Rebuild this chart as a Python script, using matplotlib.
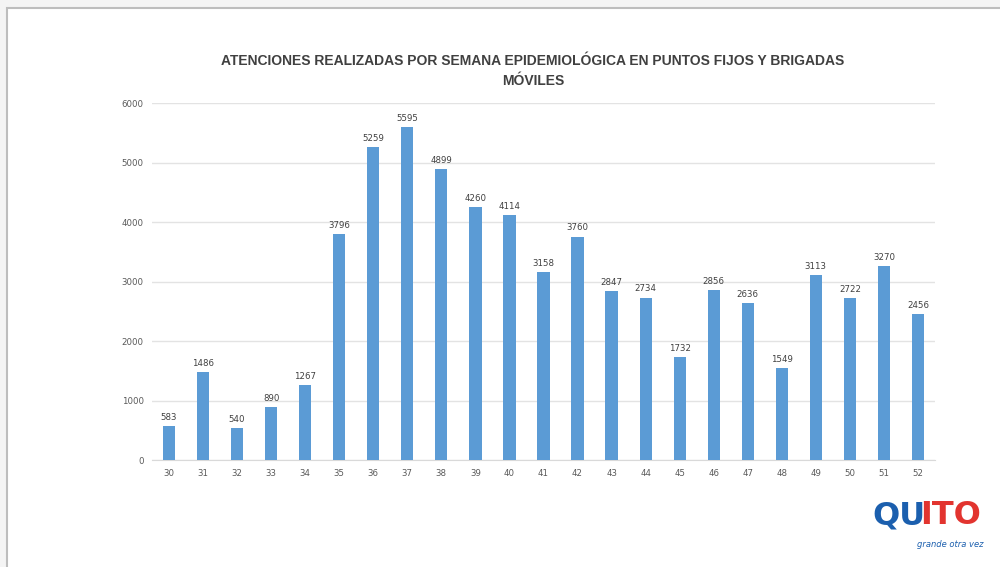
import matplotlib.pyplot as plt
import numpy as np
from matplotlib.patches import Rectangle

semanas = [str(s) for s in range(30, 53)]
atenciones = [583, 1486, 540, 890, 1267, 3796, 5259, 5595, 4899, 4260, 4114,
              3158, 3760, 2847, 2734, 1732, 2856, 2636, 1549, 3113, 2722, 3270, 2456]
yticks = [0, 1000, 2000, 3000, 4000, 5000, 6000]

titulo = "ATENCIONES REALIZADAS POR SEMANA EPIDEMIOLÓGICA EN PUNTOS FIJOS Y BRIGADAS\nMÓVILES"

fig = plt.figure(figsize=(10, 5.67), dpi=100)
fig.patch.set_facecolor("#f4f4f4")
# white page with a grey frame, drawn below the chart
fig.patches.append(Rectangle((0.007, -0.01), 1.0, 0.996, transform=fig.transFigure,
                             facecolor="white", edgecolor="#bdbdbd", linewidth=1.5, zorder=-5))

ax = fig.add_axes([0.152, 0.188, 0.783, 0.63])
ax.set_zorder(2)
x = np.arange(len(semanas))
ax.bar(x, atenciones, width=0.36, color="#5b9bd5", zorder=3)

for xi, v in zip(x, atenciones):
    ax.text(xi, v + 70, str(v), ha="center", va="bottom", fontsize=6.2, color="#404040")

ax.set_xlim(-0.5, len(semanas) - 0.5)
ax.set_ylim(0, 6000)
ax.set_yticks(yticks)
ax.set_yticklabels([str(t) for t in yticks], fontsize=6.2, color="#595959")
ax.set_xticks(x)
ax.set_xticklabels(semanas, fontsize=6.2, color="#595959")
ax.tick_params(length=0, pad=6)
ax.yaxis.grid(True, color="#e3e3e3", linewidth=1, zorder=0)
for s in ["top", "right", "left"]:
    ax.spines[s].set_visible(False)
ax.spines["bottom"].set_color("#d9d9d9")
ax.set_facecolor("none")

fig.text(0.533, 0.875, titulo, ha="center", va="center", fontsize=10,
         fontweight="bold", color="#404040", family="Liberation Sans",
         linespacing=1.6)

# Quito logo approximated with text
fig.text(0.872, 0.09, "QU", fontsize=23, fontweight="bold", color="#1b5fae",
         ha="left", va="center", family="DejaVu Sans")
fig.text(0.92, 0.09, "ITO", fontsize=23, fontweight="bold", color="#e2342f",
         ha="left", va="center", family="DejaVu Sans")
fig.text(0.95, 0.04, "grande otra vez", fontsize=6, style="italic", color="#1b5fae",
         ha="center", va="center")

fig.savefig("out.png", dpi=100, facecolor=fig.get_facecolor())
